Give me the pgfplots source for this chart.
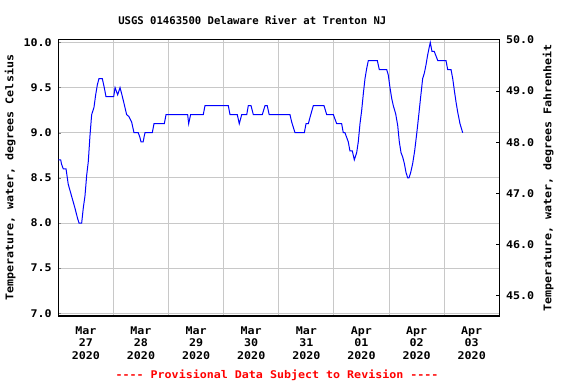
\documentclass[border=0pt]{standalone}
\usepackage{pgfplots}
\pgfplotsset{compat=1.18}
\usepackage{fontspec}
\newfontfamily\titlefont{DejaVu Sans Mono}
\newfontfamily\lblfont[FakeStretch=1.1]{DejaVu Sans Mono}
\definecolor{gridgray}{RGB}{200,200,200}
\definecolor{usgsblue}{RGB}{0,0,255}
\definecolor{usgsred}{RGB}{255,0,0}
\newcommand{\tickf}{\lblfont\bfseries\fontsize{7.95}{9.4}\selectfont}
\begin{document}
\begin{tikzpicture}
\path (0,0) rectangle (432pt,288pt);
\begin{axis}[
  at={(43.725pt,51pt)}, anchor=south west,
  scale only axis, width=330.75pt, height=207.4pt,
  xmin=0, xmax=8, ymin=6.97, ymax=10.033,
  axis line style={black, line width=1pt},
  xtick={0.5,1.5,...,7.5},
  xticklabels={{Mar\\27\\2020},{Mar\\28\\2020},{Mar\\29\\2020},{Mar\\30\\2020},{Mar\\31\\2020},{Apr\\01\\2020},{Apr\\02\\2020},{Apr\\03\\2020}},
  xticklabel style={align=center, font=\tickf, anchor=north, yshift=-4.5pt},
  major x tick style={draw=none},
  minor xtick={1,2,3,4,5,6,7},
  minor x tick style={draw=none},
  xminorgrids=true, xmajorgrids=false,
  ytick={7,7.5,8,8.5,9,9.5,10},
  ymajorgrids=true,
  ytick pos=left,
  tick align=inside,
  major tick length=2.25pt,
  grid style={gridgray, line width=0.75pt},
  minor grid style={gridgray, line width=0.75pt},
  yticklabel style={font=\tickf, xshift=-1.5pt, /pgf/number format/fixed, /pgf/number format/fixed zerofill, /pgf/number format/precision=1, /pgf/number format/assume math mode=true},
  ylabel={Temperature, water, degrees Celsius},
  ylabel style={font=\tickf, at={(axis description cs:-0.109,0.5)}, anchor=center},
  clip mode=individual,
]
\addplot[usgsblue, line width=0.75pt] coordinates {
(0,8.7) (0.043,8.7) (0.06,8.65) (0.09,8.6) (0.14,8.6) (0.18,8.43) (0.24,8.3) (0.30,8.17) (0.35,8.05) (0.376,8.0) (0.424,8.0) (0.454,8.17) (0.484,8.3) (0.515,8.53) (0.544,8.68) (0.575,8.97) (0.605,9.2) (0.647,9.28) (0.678,9.42) (0.708,9.53) (0.738,9.6) (0.798,9.6) (0.834,9.5) (0.865,9.4) (1.005,9.4) (1.03,9.5) (1.077,9.42) (1.12,9.5) (1.15,9.43) (1.19,9.33) (1.24,9.2) (1.28,9.18) (1.33,9.12) (1.373,9.0) (1.45,9.0) (1.48,8.95) (1.5,8.9) (1.54,8.9) (1.555,8.95) (1.573,9.0) (1.705,9.0) (1.736,9.1) (1.923,9.1) (1.954,9.2) (2.347,9.2) (2.365,9.1) (2.40,9.2) (2.63,9.2) (2.661,9.3) (3.084,9.3) (3.115,9.2) (3.247,9.2) (3.283,9.1) (3.327,9.2) (3.418,9.2) (3.447,9.3) (3.496,9.3) (3.538,9.2) (3.70,9.2) (3.75,9.3) (3.79,9.3) (3.826,9.2) (4.203,9.2) (4.233,9.12) (4.294,9.0) (4.463,9.0) (4.494,9.1) (4.536,9.1) (4.566,9.17) (4.626,9.3) (4.82,9.3) (4.869,9.2) (4.99,9.2) (5.05,9.1) (5.14,9.1) (5.17,9.0) (5.2,9.0) (5.23,8.95) (5.26,8.9) (5.29,8.8) (5.333,8.8) (5.37,8.7) (5.413,8.78) (5.442,8.9) (5.473,9.1) (5.504,9.25) (5.533,9.43) (5.564,9.6) (5.594,9.71) (5.624,9.8) (5.787,9.8) (5.823,9.7) (5.957,9.7) (5.986,9.64) (6.017,9.5) (6.048,9.38) (6.077,9.3) (6.12,9.21) (6.157,9.08) (6.186,8.9) (6.217,8.78) (6.248,8.73) (6.277,8.66) (6.308,8.56) (6.338,8.5) (6.362,8.5) (6.393,8.56) (6.429,8.66) (6.465,8.8) (6.502,8.99) (6.538,9.19) (6.574,9.4) (6.61,9.6) (6.64,9.66) (6.67,9.75) (6.70,9.86) (6.73,9.95) (6.748,10.0) (6.779,9.9) (6.82,9.9) (6.852,9.85) (6.883,9.8) (7.033,9.8) (7.064,9.7) (7.124,9.7) (7.155,9.6) (7.184,9.47) (7.215,9.34) (7.245,9.23) (7.287,9.1) (7.336,9.0)
};
\node[font=\titlefont\bfseries\fontsize{7.95}{9.4}\selectfont, anchor=center] at (rel axis cs:0.44,1.0705) {USGS 01463500 Delaware River at Trenton NJ};
\node[font=\tickf, text=usgsred, anchor=center] at (rel axis cs:0.496,-0.2134) {---- Provisional Data Subject to Revision ----};
\end{axis}
\begin{axis}[
  at={(43.725pt,51pt)}, anchor=south west,
  scale only axis, width=330.75pt, height=207.4pt,
  xmin=0, xmax=8, ymin=44.6, ymax=50.01,
  axis x line=none,
  axis y line*=right,
  axis line style={black, line width=1pt},
  ytick={45,46,47,48,49,50},
  tick align=inside,
  major tick length=2.25pt,
  tick style={black, line width=0.75pt},
  yticklabel style={font=\tickf, xshift=1.5pt, /pgf/number format/fixed, /pgf/number format/fixed zerofill, /pgf/number format/precision=1, /pgf/number format/assume math mode=true},
  ylabel={Temperature, water, degrees Fahrenheit},
  ylabel style={font=\tickf, at={(axis description cs:1.111,0.5)}, anchor=center, rotate=0},
]
\end{axis}
\end{tikzpicture}
\end{document}
